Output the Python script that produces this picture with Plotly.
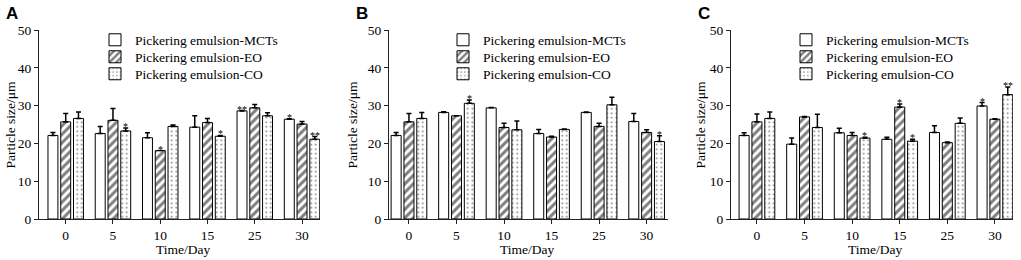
import plotly.graph_objects as go

days = ["0", "5", "10", "15", "25", "30"]
series_names = ["Pickering emulsion-MCTs", "Pickering emulsion-EO", "Pickering emulsion-CO"]

# Panel A
a_mct = [22.1, 22.6, 21.5, 24.3, 28.6, 26.4]
a_mct_err = [0.8, 1.9, 1.3, 3.0, 0.1, 0.1]
a_eo = [25.7, 26.1, 18.1, 25.5, 29.4, 25.1]
a_eo_err = [2.2, 3.1, 0.0, 1.1, 0.9, 0.7]
a_co = [26.6, 23.3, 24.5, 21.9, 27.3, 21.1]
a_co_err = [1.7, 0.8, 0.4, 0.2, 0.8, 0.7]
a_sig = [["", "", "", "", "**", "*"], ["", "", "*", "", "", ""], ["", "*", "", "*", "", "**"]]

# Panel B
b_mct = [22.1, 28.2, 29.4, 22.6, 28.2, 25.8]
b_mct_err = [0.8, 0.2, 0.1, 1.1, 0.1, 2.1]
b_eo = [25.7, 27.3, 24.2, 21.7, 24.5, 22.9]
b_eo_err = [2.2, 0.0, 1.1, 0.2, 0.8, 0.7]
b_co = [26.6, 30.6, 23.6, 23.7, 30.2, 20.5]
b_co_err = [1.6, 0.9, 2.3, 0.1, 2.0, 1.5]
b_sig = [["", "", "", "", "", ""], ["", "", "", "", "", ""], ["", "*", "", "", "", "*"]]

# Panel C
c_mct = [22.1, 19.8, 22.8, 21.1, 22.9, 29.9]
c_mct_err = [0.7, 1.6, 1.2, 0.5, 1.8, 0.9]
c_eo = [25.7, 27.0, 22.1, 29.6, 20.2, 26.4]
c_eo_err = [2.1, 0.1, 0.8, 0.8, 0.2, 0.1]
c_co = [26.6, 24.2, 21.4, 20.6, 25.3, 32.9]
c_co_err = [1.7, 3.5, 0.2, 0.5, 1.4, 2.0]
c_sig = [["", "", "", "", "", "*"], ["", "", "", "*", "", ""], ["", "", "*", "*", "", "**"]]

panel_labels = ["A", "B", "C"]
y_ticks = [0, 10, 20, 30, 40, 50]

panels = [
    ([a_mct, a_eo, a_co], [a_mct_err, a_eo_err, a_co_err], a_sig),
    ([b_mct, b_eo, b_co], [b_mct_err, b_eo_err, b_co_err], b_sig),
    ([c_mct, c_eo, c_co], [c_mct_err, c_eo_err, c_co_err], c_sig),
]

W, H = 1021, 260
SERIF = "Liberation Serif, Times New Roman, serif"
FS = 13.5
x_px = [(39, 320), (389, 668), (731, 1013)]
x_ranges = [[-0.565, 5.38], [-0.42, 5.45], [-0.545, 5.38]]
ytitle_x = [10, 352, 700]
legend_x = [95, 443, 786]
legend_rows = [40, 57, 74]
y_px = (30, 219)
BARGAP = 0.19
GROUPGAP = 0.22

patterns = [
    dict(shape=""),
    dict(shape="/", fgcolor="black", bgcolor="white", size=6, solidity=0.5),
    dict(shape=".", fgcolor="black", bgcolor="white", size=4.5, solidity=0.14),
]

fig = go.Figure()
annotations = []
xidx = list(range(len(days)))
slot = (1 - BARGAP) / 3
offsets = [-(1 - BARGAP) / 2 + slot * (k + 0.5) for k in range(3)]
layout_upd = {}

for p, (vals, errs, sigs) in enumerate(panels):
    ax = "" if p == 0 else str(p + 1)
    for k in range(3):
        n = p * 3 + k + 1
        leg = "legend" if n == 1 else "legend" + str(n)
        fig.add_trace(go.Bar(
            x=xidx, y=vals[k], name=series_names[k],
            xaxis="x" + ax, yaxis="y" + ax, legend=leg, showlegend=True,
            offsetgroup=str(k), cliponaxis=False,
            marker=dict(color="white", line=dict(color="black", width=1), pattern=patterns[k]),
            error_y=dict(type="data", symmetric=False, array=errs[k],
                         arrayminus=[0] * len(days), color="black", thickness=1.5, width=2.5),
        ))
        layout_upd[leg] = dict(x=legend_x[p] / W, y=1 - legend_rows[k] / H,
                               xanchor="left", yanchor="middle", visible=True,
                               bgcolor="rgba(0,0,0,0)", borderwidth=0,
                               font=dict(family=SERIF, size=FS, color="black"),
                               itemwidth=30)
        for i in xidx:
            if sigs[k][i]:
                annotations.append(dict(
                    x=i + offsets[k], y=vals[k][i] + errs[k][i], xref="x" + ax, yref="y" + ax,
                    text=sigs[k][i], showarrow=False, xanchor="center", yanchor="bottom", yshift=-6,
                    font=dict(family=SERIF, size=10, color="black")))
    l, r = x_px[p]
    dom_x = [l / W, r / W]
    dom_y = [1 - y_px[1] / H, 1 - y_px[0] / H]
    layout_upd["xaxis" + ax] = dict(domain=dom_x, range=x_ranges[p], tickvals=xidx, ticktext=days,
                                    anchor="y" + ax, showline=True, linecolor="#222", linewidth=1,
                                    ticks="outside", ticklen=4, tickcolor="#222", showgrid=False,
                                    zeroline=False, automargin=False,
                                    tickfont=dict(family=SERIF, size=FS, color="black"))
    layout_upd["yaxis" + ax] = dict(domain=dom_y, range=[0, 50], tickvals=y_ticks, anchor="x" + ax,
                                    showline=True, linecolor="#222", linewidth=1, ticks="outside",
                                    ticklen=4, tickcolor="#222", showgrid=False, zeroline=False,
                                    automargin=False,
                                    tickfont=dict(family=SERIF, size=FS, color="black"))
    x0, x1 = x_ranges[p]
    mid_px = l + (2.5 - x0) / (x1 - x0) * (r - l)
    annotations.append(dict(x=ytitle_x[p] / W, y=1 - 124.5 / H, xref="paper", yref="paper",
                            text="Particle size/μm", textangle=-90, showarrow=False,
                            xanchor="center", yanchor="middle",
                            font=dict(family=SERIF, size=FS, color="black")))
    annotations.append(dict(x=mid_px / W, y=1 - 249 / H, xref="paper", yref="paper",
                            text="Time/Day", showarrow=False, xanchor="center", yanchor="middle",
                            font=dict(family=SERIF, size=FS, color="black")))
    annotations.append(dict(x=(l - 35) / W, y=1 - 2 / H, xref="paper", yref="paper",
                            text="<b>" + panel_labels[p] + "</b>", showarrow=False,
                            xanchor="left", yanchor="top",
                            font=dict(family="Liberation Sans, Arial, sans-serif", size=17, color="black")))

fig.update_layout(**layout_upd)
fig.update_layout(
    width=W, height=H, margin=dict(l=0, r=0, t=0, b=0, pad=0, autoexpand=False),
    plot_bgcolor="white", paper_bgcolor="white", showlegend=True,
    barmode="group", bargap=BARGAP, bargroupgap=GROUPGAP,
    annotations=annotations,
)

fig.write_html("out.html", config={"displayModeBar": False},
               post_script="document.body.style.margin='0px';document.body.style.overflow='hidden';")
